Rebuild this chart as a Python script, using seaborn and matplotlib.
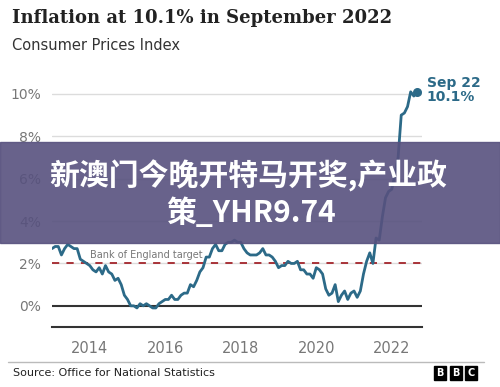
import numpy as np
import pandas as pd
import seaborn as sns
import matplotlib.pyplot as plt
from matplotlib.patches import Rectangle
from matplotlib.lines import Line2D

sns.set_style('white')
plt.rcParams['font.family'] = ['DejaVu Sans']

# UK CPI, annual rate, Jan 2013 - Sep 2022
cpi_2013 = [2.7, 2.8, 2.8, 2.4, 2.7, 2.9, 2.8, 2.7, 2.7, 2.2, 2.1, 2.0]
cpi_2014 = [1.9, 1.7, 1.6, 1.8, 1.5, 1.9, 1.6, 1.5, 1.2, 1.3, 1.0, 0.5]
cpi_2015 = [0.3, 0.0, 0.0, -0.1, 0.1, 0.0, 0.1, 0.0, -0.1, -0.1, 0.1, 0.2]
cpi_2016 = [0.3, 0.3, 0.5, 0.3, 0.3, 0.5, 0.6, 0.6, 1.0, 0.9, 1.2, 1.6]
cpi_2017 = [1.8, 2.3, 2.3, 2.7, 2.9, 2.6, 2.6, 2.9, 3.0, 3.0, 3.1, 3.0]
cpi_2018 = [3.0, 2.7, 2.5, 2.4, 2.4, 2.4, 2.5, 2.7, 2.4, 2.4, 2.3, 2.1]
cpi_2019 = [1.8, 1.9, 1.9, 2.1, 2.0, 2.0, 2.1, 1.7, 1.7, 1.5, 1.5, 1.3]
cpi_2020 = [1.8, 1.7, 1.5, 0.8, 0.5, 0.6, 1.0, 0.2, 0.5, 0.7, 0.3, 0.6]
cpi_2021 = [0.7, 0.4, 0.7, 1.5, 2.1, 2.5, 2.0, 3.2, 3.1, 4.2, 5.1, 5.4]
cpi_2022 = [5.5, 6.2, 7.0, 9.0, 9.1, 9.4, 10.1, 9.9, 10.1]

cpi = (cpi_2013 + cpi_2014 + cpi_2015 + cpi_2016 + cpi_2017 + cpi_2018
       + cpi_2019 + cpi_2020 + cpi_2021 + cpi_2022)
dates = pd.date_range('2013-01-01', periods=len(cpi), freq='MS')
df = pd.DataFrame({'date': dates, 'cpi': cpi})
df['year'] = df['date'].dt.year + (df['date'].dt.month - 1) / 12

year_ticks = [2014, 2016, 2018, 2020, 2022]
pct_ticks = [0, 2, 4, 6, 8, 10]
target = 2

line_col = '#2c6a88'
grey = '#777777'

fig = plt.figure(figsize=(5, 3.87), dpi=100)
ax = fig.add_axes([0.104, 0.155, 0.74, 0.668])

for v in pct_ticks[1:]:
    ax.axhline(v, color='#dcdcdc', lw=1, zorder=0)
ax.axhline(0, color='#333333', lw=1.5, zorder=1)
ax.axhline(target, color='#a3252b', lw=1.3, ls=(0, (4, 4)), zorder=1)
ax.text(2014, target + 0.15, 'Bank of England target', color=grey,
        fontsize=7, va='bottom', ha='left', zorder=2,
        bbox=dict(facecolor='white', edgecolor='none', pad=0.5))

sns.lineplot(data=df, x='year', y='cpi', color=line_col, lw=2, ax=ax, zorder=3)
last = df.iloc[-1]
ax.scatter([last['year']], [last['cpi']], s=30, color=line_col, zorder=4)
ax.annotate('Sep 22\n' + f"{last['cpi']:.1f}%", (last['year'], last['cpi']),
            xytext=(7, 1), textcoords='offset points', color=line_col,
            fontsize=10, fontweight='bold', va='center', ha='left',
            linespacing=1.0, annotation_clip=False)

ax.set_xlim(2013.0, 2022.8)
ax.set_ylim(-1.0, 11.2)
ax.set_xticks(year_ticks)
ax.set_xticklabels([str(y) for y in year_ticks])
ax.set_yticks(pct_ticks)
ax.set_yticklabels([f'{v}%' for v in pct_ticks])
ax.tick_params(axis='x', length=4, width=1, color='#333333', labelcolor=grey,
               labelsize=10.5, pad=6, direction='out')
ax.tick_params(axis='y', length=0, labelcolor=grey, labelsize=10, pad=8)
ax.set_xlabel('')
ax.set_ylabel('')
sns.despine(ax=ax, left=True)
ax.spines['bottom'].set_color('#333333')
ax.spines['bottom'].set_linewidth(1.5)

fig.text(0.024, 0.94, 'Inflation at 10.1% in September 2022',
         family='DejaVu Serif', fontsize=13, fontweight='bold',
         color='#222222', va='baseline')
fig.text(0.024, 0.872, 'Consumer Prices Index', fontsize=10.5,
         color='#333333', va='baseline')

fig.add_artist(Line2D([0.016, 0.968], [1 - 362 / 387] * 2,
                      color='#bbbbbb', lw=1))
fig.text(0.026, 1 - 376 / 387, 'Source: Office for National Statistics',
         fontsize=8, color='#222222', va='baseline')
for i, ch in enumerate('BBC'):
    x0 = (434 + i * 15.5) / 500
    fig.add_artist(Rectangle((x0, 1 - 380 / 387), 12 / 500, 14 / 387,
                             color='black', transform=fig.transFigure))
    fig.text(x0 + 6 / 500, 1 - 373 / 387, ch, color='white', fontsize=7,
             fontweight='bold', ha='center', va='center')

# overlay banner
fig.add_artist(Rectangle((0, 1 - 243 / 387), 1, 101 / 387,
                         color='#57517e', alpha=0.9,
                         transform=fig.transFigure, zorder=10))
fig.text(0.497, 1 - 176 / 387, '新澳门今晚开特马开奖,产业政', color='white',
         fontsize=21.5, fontweight='bold', ha='center', va='center', zorder=11,
         family=['Noto Sans CJK SC', 'DejaVu Sans'])
fig.text(0.502, 1 - 213 / 387, '策_YHR9.74', color='white',
         fontsize=21.5, fontweight='bold', ha='center', va='center', zorder=11,
         family=['Noto Sans CJK SC', 'DejaVu Sans'])

fig.savefig('out.png', dpi=100)
